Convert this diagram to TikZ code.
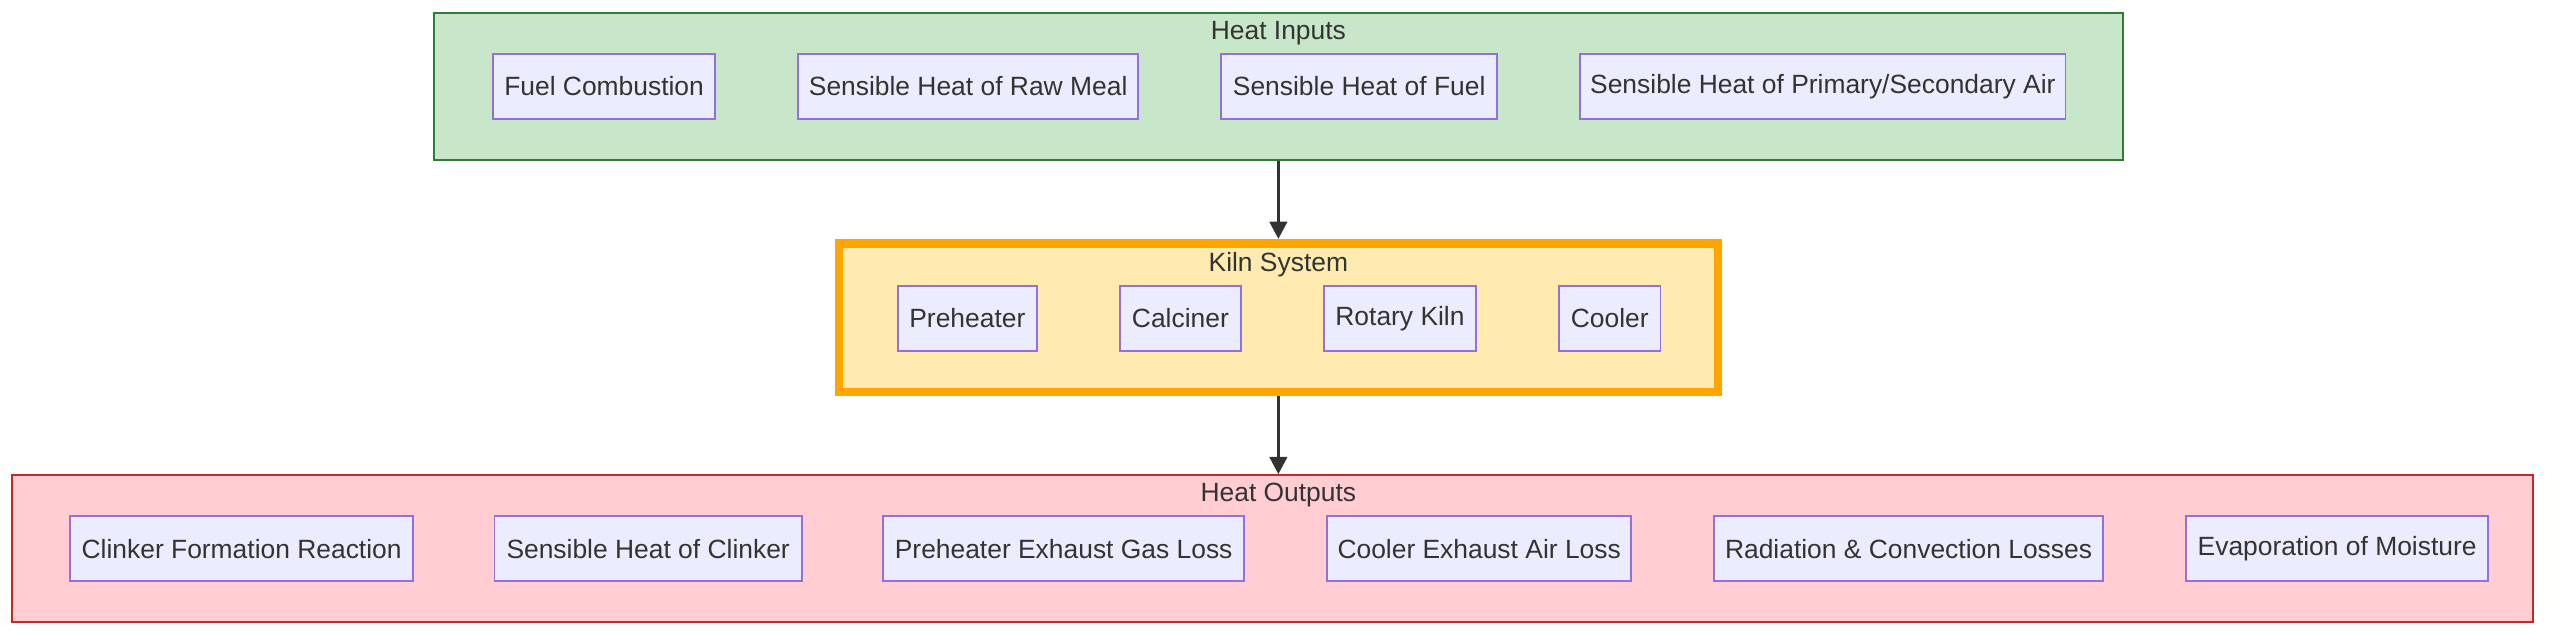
\documentclass[tikz,border=0pt]{standalone}
\usetikzlibrary{arrows.meta}
\usepackage{fontspec}
\setmainfont{Liberation Sans}
\definecolor{itemfill}{HTML}{ECECFF}
\definecolor{itemline}{HTML}{9370DB}
\definecolor{txt}{HTML}{333333}
\definecolor{infill}{HTML}{C8E6C9}
\definecolor{inline}{HTML}{2E7D32}
\definecolor{kilnfill}{HTML}{FFEBB0}
\definecolor{kilnline}{HTML}{FFA500}
\definecolor{outfill}{HTML}{FFCDD2}
\definecolor{outline}{HTML}{C62828}
\begin{document}
\begin{tikzpicture}[x=0.01cm, y=-0.01cm,
    item/.style={rectangle, draw=itemline, fill=itemfill, line width=0.3pt,
                 minimum height=0.4cm, inner sep=0pt, text=txt,
                 font=\fontsize{4.6}{5.5}\selectfont},
    grp/.style={rectangle, line width=0.3pt, inner sep=0pt},
    ttl/.style={text=txt, font=\fontsize{4.6}{5.5}\selectfont},
    arr/.style={-{Triangle[length=3pt, width=3pt]}, draw=txt, line width=0.6pt},
  ]
  \useasboundingbox (0,0) rectangle (1568,390);

  % Heat inputs
  \node[grp, draw=inline, fill=infill, minimum width=10.34cm, minimum height=0.9cm] (inputs) at (783,53) {};
  \node[ttl] (inputsT) at (783,20) {Heat Inputs};
  \node[item, minimum width=1.36cm] (fuel) at (370,53) {Fuel Combustion};
  \node[item, minimum width=2.08cm] (meal) at (593,53) {Sensible Heat of Raw Meal};
  \node[item, minimum width=1.69cm] (fuelheat) at (832.5,53) {Sensible Heat of Fuel};
  \node[item, minimum width=2.97cm] (air) at (1116.5,53) {Sensible Heat of Primary/Secondary Air};

  % Kiln system
  \node[grp, draw=kilnline, line width=1.5pt, fill=kilnfill, minimum width=5.38cm, minimum height=0.91cm] (kiln) at (783,194.5) {};
  \node[ttl] (kilnT) at (783,162) {Kiln System};
  \node[item, minimum width=0.85cm] (pre) at (592.5,195) {Preheater};
  \node[item, minimum width=0.74cm] (calc) at (723,195) {Calciner};
  \node[item, minimum width=0.93cm] (rot) at (857.5,195) {Rotary Kiln};
  \node[item, minimum width=0.62cm] (cool) at (986,195) {Cooler};

  % Heat outputs
  \node[grp, draw=outline, fill=outfill, minimum width=15.43cm, minimum height=0.9cm] (outputs) at (779.5,336) {};
  \node[ttl] (outputsT) at (783,303) {Heat Outputs};
  \node[item, minimum width=2.10cm] (clink) at (148,336) {Clinker Formation Reaction};
  \node[item, minimum width=1.88cm] (clinkheat) at (397,336) {Sensible Heat of Clinker};
  \node[item, minimum width=2.21cm] (exh) at (651.5,336) {Preheater Exhaust Gas Loss};
  \node[item, minimum width=1.86cm] (coolexh) at (906,336) {Cooler Exhaust Air Loss};
  \node[item, minimum width=2.38cm] (rad) at (1169,336) {Radiation \& Convection Losses};
  \node[item, minimum width=1.85cm] (moist) at (1431.5,336) {Evaporation of Moisture};

  \draw[arr] (inputs.south) -- (kiln.north);
  \draw[arr] (kiln.south) -- (outputs.north -| kiln.south);
\end{tikzpicture}
\end{document}
